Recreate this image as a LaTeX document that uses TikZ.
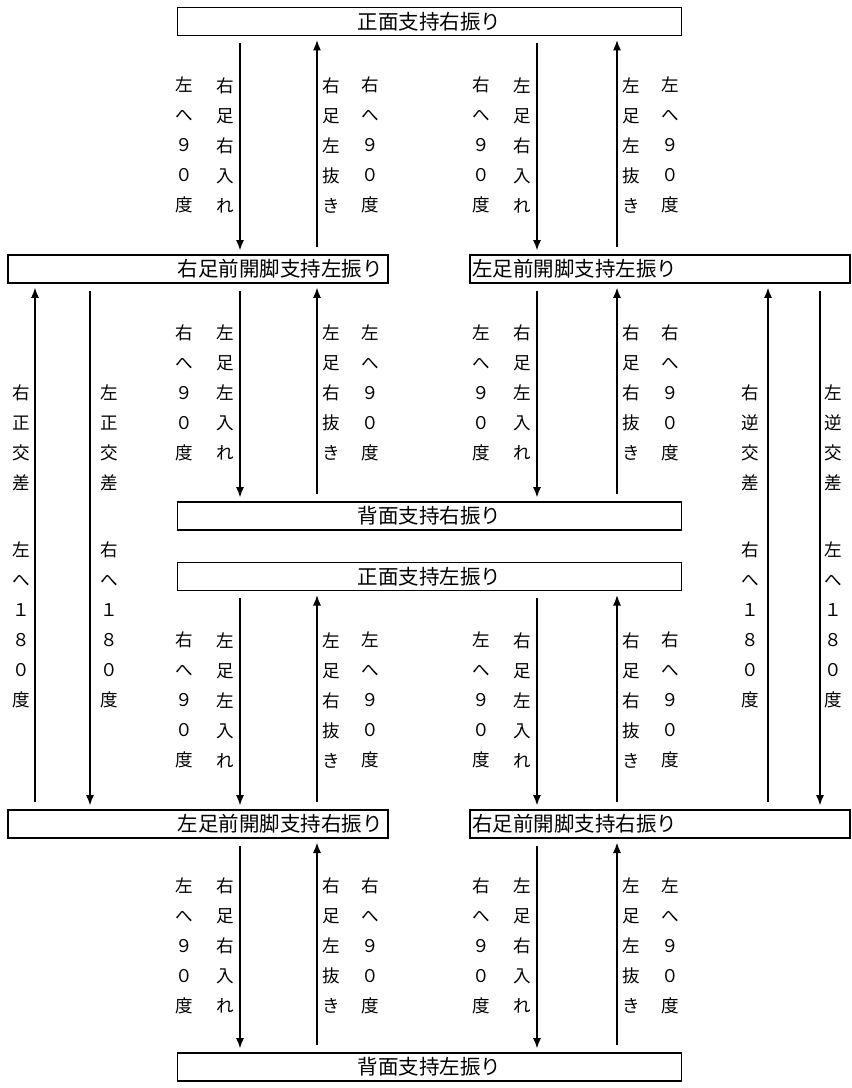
\documentclass[tikz,border=0pt]{standalone}
\usepackage{fontspec}
\newfontfamily\jpfont{Noto Sans CJK JP}
\usetikzlibrary{arrows.meta}
\tikzset{
  box/.style={draw,line width=1.6pt,minimum height=8.4mm,inner sep=0pt,font=\jpfont\fontsize{17.5}{20}\selectfont},
  cbox/.style={box,minimum width=151.2mm},
  lbox/.style={box,text width=111mm,inner xsep=1.5mm,align=right},
  rbox/.style={box,text width=112.8mm,inner xsep=0.6mm,align=left},
  lab/.style={font=\jpfont\fontsize{15}{25.6}\selectfont,align=center,inner sep=0pt},
  arr/.style={->,line width=1.5pt,shorten <=6pt,shorten >=3pt},
  >={Latex[length=9pt,width=7pt]}
}

\begin{document}
\begin{tikzpicture}[x=0.3mm,y=-0.3mm]
\useasboundingbox (0,0) rectangle (851,1088);
% boxes
\node[cbox] (b1) at (429.5,21.5) {正面支持右振り};
\node[lbox] (b2) at (198,269) {右足前開脚支持左振り};
\node[rbox] (b3) at (660,269) {左足前開脚支持左振り};
\node[cbox] (b4) at (429.5,516) {背面支持右振り};
\node[cbox] (b5) at (429.5,576.5) {正面支持左振り};
\node[lbox] (b6) at (198,824) {左足前開脚支持右振り};
\node[rbox] (b7) at (660,824) {右足前開脚支持右振り};
\node[cbox] (b8) at (429.5,1067) {背面支持左振り};
% columns of the arrows
\coordinate (cA) at (240,0);
\coordinate (cB) at (317,0);
\coordinate (cC) at (537,0);
\coordinate (cD) at (617,0);
\coordinate (sA) at (35,0);
\coordinate (sB) at (90,0);
\coordinate (sC) at (768,0);
\coordinate (sD) at (820,0);
% top
\draw[arr](b1.south -| cA)--node[lab,left=4pt](n1a){右\\足\\右\\入\\れ}node[lab,left=39pt](f1a){左\\へ\\９\\０\\度}(b2.north -| cA);
\draw[arr](b2.north -| cB)--node[lab,right=4pt](n1b){右\\足\\左\\抜\\き}node[lab,right=37.5pt](f1b){右\\へ\\９\\０\\度}(b1.south -| cB);
\draw[arr](b1.south -| cC)--node[lab,left=4pt](n1c){左\\足\\右\\入\\れ}node[lab,left=39pt](f1c){右\\へ\\９\\０\\度}(b3.north -| cC);
\draw[arr](b3.north -| cD)--node[lab,right=4pt](n1d){左\\足\\左\\抜\\き}node[lab,right=37.5pt](f1d){左\\へ\\９\\０\\度}(b1.south -| cD);
% second row
\draw[arr](b2.south -| cA)--node[lab,left=4pt](n2a){左\\足\\左\\入\\れ}node[lab,left=39pt](f2a){右\\へ\\９\\０\\度}(b4.north -| cA);
\draw[arr](b4.north -| cB)--node[lab,right=4pt](n2b){左\\足\\右\\抜\\き}node[lab,right=37.5pt](f2b){左\\へ\\９\\０\\度}(b2.south -| cB);
\draw[arr](b3.south -| cC)--node[lab,left=4pt](n2c){右\\足\\左\\入\\れ}node[lab,left=39pt](f2c){左\\へ\\９\\０\\度}(b4.north -| cC);
\draw[arr](b4.north -| cD)--node[lab,right=4pt](n2d){右\\足\\右\\抜\\き}node[lab,right=37.5pt](f2d){右\\へ\\９\\０\\度}(b3.south -| cD);
% third row
\draw[arr](b5.south -| cA)--node[lab,left=4pt](n3a){左\\足\\左\\入\\れ}node[lab,left=39pt](f3a){右\\へ\\９\\０\\度}(b6.north -| cA);
\draw[arr](b6.north -| cB)--node[lab,right=4pt](n3b){左\\足\\右\\抜\\き}node[lab,right=37.5pt](f3b){左\\へ\\９\\０\\度}(b5.south -| cB);
\draw[arr](b5.south -| cC)--node[lab,left=4pt](n3c){右\\足\\左\\入\\れ}node[lab,left=39pt](f3c){左\\へ\\９\\０\\度}(b7.north -| cC);
\draw[arr](b7.north -| cD)--node[lab,right=4pt](n3d){右\\足\\右\\抜\\き}node[lab,right=37.5pt](f3d){右\\へ\\９\\０\\度}(b5.south -| cD);
% bottom
\draw[arr](b6.south -| cA)--node[lab,left=4pt](n4a){右\\足\\右\\入\\れ}node[lab,left=39pt](f4a){左\\へ\\９\\０\\度}(b8.north -| cA);
\draw[arr](b8.north -| cB)--node[lab,right=4pt](n4b){右\\足\\左\\抜\\き}node[lab,right=37.5pt](f4b){右\\へ\\９\\０\\度}(b6.south -| cB);
\draw[arr](b7.south -| cC)--node[lab,left=4pt](n4c){左\\足\\右\\入\\れ}node[lab,left=39pt](f4c){右\\へ\\９\\０\\度}(b8.north -| cC);
\draw[arr](b8.north -| cD)--node[lab,right=4pt](n4d){左\\足\\左\\抜\\き}node[lab,right=37.5pt](f4d){左\\へ\\９\\０\\度}(b7.south -| cD);
% crossings at the sides
\draw[arr](b6.north -| sA)--node[lab,left=3.5pt](xa){右\\正\\交\\差\\[32pt]左\\へ\\１\\８\\０\\度}(b2.south -| sA);
\draw[arr](b2.south -| sB)--node[lab,right=8pt](xb){左\\正\\交\\差\\[32pt]右\\へ\\１\\８\\０\\度}(b6.north -| sB);
\draw[arr](b7.north -| sC)--node[lab,left=7pt](xc){右\\逆\\交\\差\\[32pt]右\\へ\\１\\８\\０\\度}(b3.south -| sC);
\draw[arr](b3.south -| sD)--node[lab,right=3pt](xd){左\\逆\\交\\差\\[32pt]左\\へ\\１\\８\\０\\度}(b7.north -| sD);
\end{tikzpicture}
\end{document}
